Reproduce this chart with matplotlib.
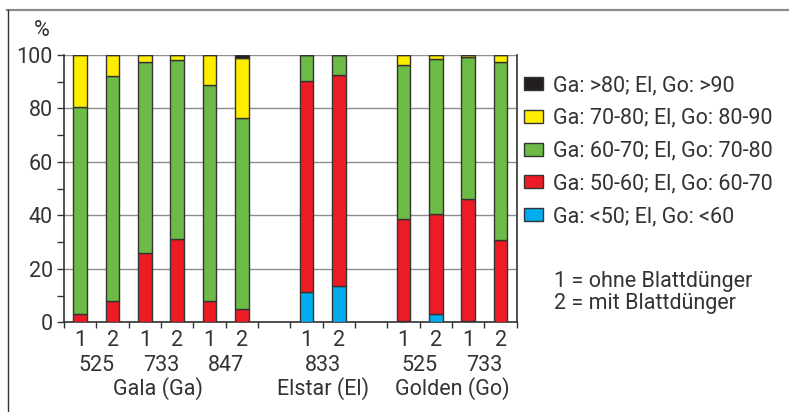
import matplotlib
matplotlib.use("Agg")
import matplotlib.pyplot as plt
import numpy as np

plt.rcParams['font.family'] = ['Roboto', 'DejaVu Sans']

# Data
positions = [0, 1, 2, 3, 4, 5, 7, 8, 10, 11, 12, 13]
bar_labels = ["1", "2", "1", "2", "1", "2", "1", "2", "1", "2", "1", "2"]
blue   = [0.0, 0.0, 0.0, 0.0, 0.0, 0.0, 11.2, 13.7, 0.6, 3.0, 0.3, 0.0]
red    = [3.0, 8.0, 26.0, 31.0, 8.1, 5.1, 79.2, 78.7, 37.9, 37.4, 45.8, 30.8]
green  = [77.7, 84.0, 71.5, 67.1, 80.6, 71.3, 9.6, 7.6, 57.6, 58.0, 53.0, 66.5]
yellow = [19.3, 8.0, 2.5, 1.9, 11.3, 22.6, 0.0, 0.0, 3.9, 1.6, 0.9, 2.7]
black  = [0.0, 0.0, 0.0, 0.0, 0.0, 1.0, 0.0, 0.0, 0.0, 0.0, 0.0, 0.0]

variety_labels = ["525", "733", "847", "833", "525", "733"]
variety_pos = [0.5, 2.5, 4.5, 7.5, 10.5, 12.5]
group_labels = ["Gala (Ga)", "Elstar (El)", "Golden (Go)"]
group_pos = [2.4, 7.5, 11.5]

legend_labels = ["Ga: >80; El, Go: >90", "Ga: 70-80; El, Go: 80-90",
                 "Ga: 60-70; El, Go: 70-80", "Ga: 50-60; El, Go: 60-70",
                 "Ga: <50; El, Go: <60"]
note_lines = ["1 = ohne Blattdünger", "2 = mit Blattdünger"]

colors = {"blue": "#00AEEF", "red": "#ED1C24", "green": "#6CBB46",
          "yellow": "#FFED00", "black": "#231F20"}

W, H = 789, 412
fig = plt.figure(figsize=(W / 100, H / 100), dpi=100)
ax = fig.add_axes([64 / W, 1 - 322.3 / H, (516.7 - 64) / W, (322.3 - 55) / H])

fs = 15.5
tc = "#333333"
series = [("blue", blue), ("red", red), ("green", green), ("yellow", yellow), ("black", black)]
bottom = np.zeros(len(positions))
handles = {}
for name, vals in series:
    vals = np.array(vals)
    b = ax.bar(positions, vals, bottom=bottom, width=0.42, color=colors[name],
               edgecolor="#333333", linewidth=1.0, zorder=3)
    handles[name] = b
    bottom += vals

ax.set_xlim(-0.5, 13.5)
ax.set_ylim(0, 100)
ax.set_yticks([0, 20, 40, 60, 80, 100])
ax.set_yticks([10, 30, 50, 70, 90], minor=True)
ax.set_yticklabels(["0", "20", "40", "60", "80", "100"], fontsize=fs, color=tc)
ax.yaxis.grid(True, which="major", color="#8c8c8c", linewidth=1.0, zorder=0)
ax.set_xticks(np.arange(-0.5, 14, 1))
ax.set_xticklabels([])
ax.tick_params(axis="x", length=4, width=1, color="#333333", direction="out")
ax.tick_params(axis="y", which="both", length=5, width=1, color="#333333",
               direction="out", pad=3)
ax.spines["top"].set_visible(False)
for s in ["left", "bottom", "right"]:
    ax.spines[s].set_color("#333333")
    ax.spines[s].set_linewidth(1.2)
ax.set_axisbelow(True)

# x labels
for p, l in zip(positions, bar_labels):
    ax.text(p, -6.8, l, ha="center", va="center", fontsize=fs, color=tc)
for p, l in zip(variety_pos, variety_labels):
    ax.text(p, -16, l, ha="center", va="center", fontsize=fs, color=tc)
for p, l in zip(group_pos, group_labels):
    ax.text(p, -24.8, l, ha="center", va="center", fontsize=fs, color=tc)

ax.text(-1.2, 109.0, "%", ha="center", va="center", fontsize=fs, color=tc)

order = ["black", "yellow", "green", "red", "blue"]
leg = fig.legend([handles[k] for k in order], legend_labels,
                 loc="upper left", bbox_to_anchor=(524 / W, 1 - 75 / H),
                 frameon=False, fontsize=fs, handlelength=0.88, handleheight=0.55,
                 handletextpad=0.45, labelspacing=0.55, borderpad=0, borderaxespad=0)
for t in leg.get_texts():
    t.set_color(tc)

fig.text(554 / W, 1 - 281 / H, note_lines[0], ha="left", va="center", fontsize=fs, color=tc)
fig.text(554 / W, 1 - 303 / H, note_lines[1], ha="left", va="center", fontsize=fs, color=tc)

# frame lines
fig.add_artist(plt.Line2D([7 / W, 1], [1 - 10 / H, 1 - 10 / H], transform=fig.transFigure,
                          color="#8a8a8a", linewidth=1.6))
fig.add_artist(plt.Line2D([7.5 / W, 7.5 / W], [0, 1 - 10 / H], transform=fig.transFigure,
                          color="#333333", linewidth=1.0))

fig.savefig("out.png", dpi=100)
